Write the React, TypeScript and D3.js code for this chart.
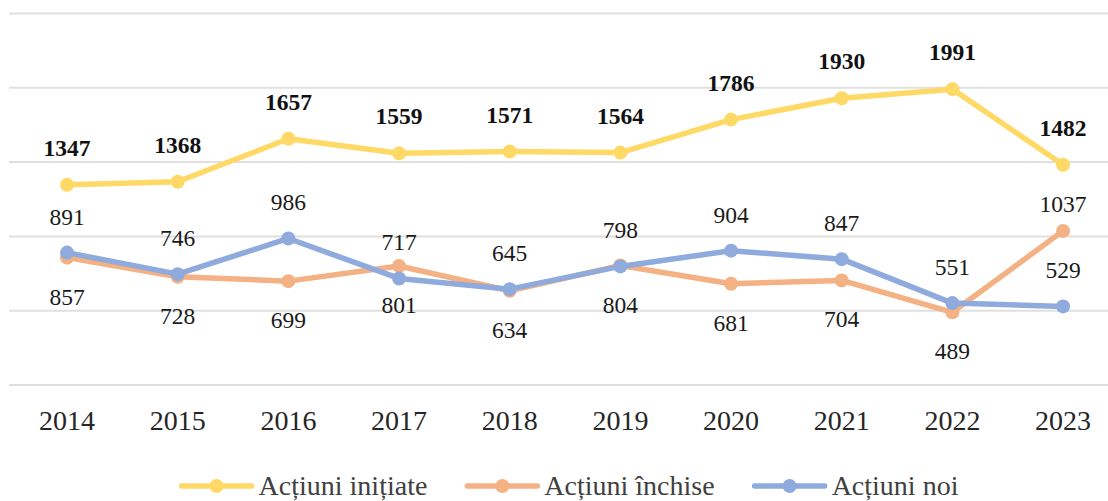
import React, { useEffect, useRef } from "react";
import * as d3 from "d3";

const years = ["2014", "2015", "2016", "2017", "2018", "2019", "2020", "2021", "2022", "2023"];
const initiate = [1347, 1368, 1657, 1559, 1571, 1564, 1786, 1930, 1991, 1482];
const inchise = [857, 728, 699, 801, 634, 804, 681, 704, 489, 1037];
const noi = [891, 746, 986, 717, 645, 798, 904, 847, 551, 529];
const yTicks = [0, 500, 1000, 1500, 2000, 2500];
const seriesNames = ["Acțiuni inițiate", "Acțiuni închise", "Acțiuni noi"];
const seriesColors = ["#FFD966", "#F4B183", "#8FAADC"];

const W = 1108;
const H = 501;
const FONT = "'Liberation Serif', 'Times New Roman', serif";

export default function App() {
  const ref = useRef<SVGSVGElement | null>(null);

  useEffect(() => {
    const svg = d3.select(ref.current);
    svg.selectAll("*").remove();

    const x = d3.scalePoint<string>().domain(years).range([11.7, 1118.4]).padding(0.5);
    const y = d3.scaleLinear().domain([0, 2500]).range([385, 13.5]);

    // gridlines
    svg
      .append("g")
      .selectAll("line")
      .data(yTicks)
      .join("line")
      .attr("x1", 9)
      .attr("x2", W)
      .attr("y1", (d) => y(d))
      .attr("y2", (d) => y(d))
      .attr("stroke", "#e0e0e0")
      .attr("stroke-width", 2);

    // x axis labels
    svg
      .append("g")
      .selectAll("text")
      .data(years)
      .join("text")
      .attr("x", (d) => x(d)!)
      .attr("y", 430)
      .attr("text-anchor", "middle")
      .attr("font-family", FONT)
      .attr("font-size", 28)
      .attr("fill", "#262626")
      .text((d) => d);

    const series = [initiate, inchise, noi];
    const order = [1, 2, 0];
    const line = d3
      .line<number>()
      .x((_, i) => x(years[i])!)
      .y((d) => y(d));

    order.forEach((si) => {
      const vals = series[si];
      const g = svg.append("g");
      g.append("path")
        .attr("d", line(vals)!)
        .attr("fill", "none")
        .attr("stroke", seriesColors[si])
        .attr("stroke-width", 5.5)
        .attr("stroke-linejoin", "round")
        .attr("stroke-linecap", "round");
      g.selectAll("circle")
        .data(vals)
        .join("circle")
        .attr("cx", (_, i) => x(years[i])!)
        .attr("cy", (d) => y(d))
        .attr("r", 7)
        .attr("fill", seriesColors[si]);
    });

    // data labels
    const labels = svg.append("g").attr("font-family", FONT);
    initiate.forEach((v, i) => {
      labels
        .append("text")
        .attr("x", x(years[i])!)
        .attr("y", y(v) - 29)
        .attr("text-anchor", "middle")
        .attr("font-size", 23.5)
        .attr("font-weight", "bold")
        .attr("fill", "#111")
        .text(v);
    });
    noi.forEach((v, i) => {
      labels
        .append("text")
        .attr("x", x(years[i])!)
        .attr("y", y(v) - 28)
        .attr("text-anchor", "middle")
        .attr("font-size", 23.5)
        .attr("fill", "#1a1a1a")
        .text(v);
    });
    inchise.forEach((v, i) => {
      const last = i === inchise.length - 1;
      labels
        .append("text")
        .attr("x", x(years[i])!)
        .attr("y", last ? y(v) - 19 : y(v) + 47)
        .attr("text-anchor", "middle")
        .attr("font-size", 23.5)
        .attr("fill", "#1a1a1a")
        .text(v);
    });

    // legend
    const iconW = 70;
    const iconGap = 7;
    const itemGap = 40;
    const legY = 486;
    const leg = svg.append("g");
    const items = seriesNames.map((name, i) => {
      const gi = leg.append("g");
      gi.append("line")
        .attr("x1", 0)
        .attr("x2", iconW)
        .attr("y1", legY)
        .attr("y2", legY)
        .attr("stroke", seriesColors[i])
        .attr("stroke-width", 5.5)
        .attr("stroke-linecap", "round");
      gi.append("circle")
        .attr("cx", iconW / 2)
        .attr("cy", legY)
        .attr("r", 7)
        .attr("fill", seriesColors[i]);
      const t = gi
        .append("text")
        .attr("x", iconW + iconGap)
        .attr("y", 495)
        .attr("font-family", FONT)
        .attr("font-size", 28)
        .attr("fill", "#404040")
        .text(name);
      const tw = (t.node() as SVGTextElement).getComputedTextLength();
      return { gi, w: iconW + iconGap + tw };
    });
    const total = d3.sum(items, (d) => d.w) + itemGap * (items.length - 1);
    let cx = 570 - total / 2;
    items.forEach((it) => {
      it.gi.attr("transform", `translate(${cx},0)`);
      cx += it.w + itemGap;
    });
  }, []);

  return (
    <svg
      ref={ref}
      width={W}
      height={H}
      style={{ position: "absolute", left: 0, top: 0, background: "#fff" }}
    />
  );
}
